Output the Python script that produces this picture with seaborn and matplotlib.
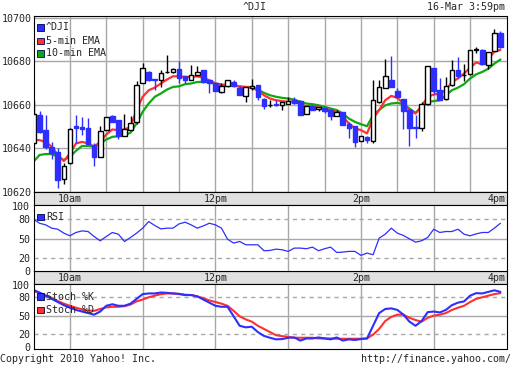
import numpy as np
import pandas as pd
import seaborn as sns
import matplotlib.pyplot as plt
from matplotlib.patches import Rectangle

# 5-minute candles, ^DJI 16-Mar-2010 (minutes after 9:30)
minutes = np.arange(78) * 5
opens = [10642.3, 10655.3, 10648.4, 10640.8, 10638.2, 10625.8, 10633.1, 10650.2, 10650.0, 10649.2,
         10641.5, 10635.9, 10648.4, 10654.8, 10653.0, 10645.8, 10648.4, 10652.2, 10670.2, 10675.1,
         10671.9, 10671.6, 10675.0, 10675.1, 10676.6, 10673.1, 10671.6, 10673.6, 10675.9, 10671.3,
         10669.8, 10666.0, 10668.5, 10670.5, 10667.5, 10664.1, 10667.5, 10669.0, 10662.8, 10659.8,
         10660.2, 10660.0, 10660.6, 10662.4, 10661.7, 10655.6, 10659.4, 10658.3, 10658.5, 10657.5,
         10654.9, 10656.6, 10651.1, 10650.2, 10643.3, 10645.3, 10643.5, 10661.4, 10667.5, 10671.6,
         10666.4, 10662.8, 10657.6, 10649.8, 10649.2, 10660.6, 10677.1, 10666.7, 10662.8, 10669.0,
         10675.9, 10673.5, 10674.0, 10685.3, 10685.3, 10678.2, 10684.7, 10693.1]
highs = [10661.7, 10657.1, 10655.3, 10643.0, 10640.0, 10633.4, 10649.2, 10655.3, 10654.2, 10653.8,
         10642.3, 10650.2, 10654.5, 10655.3, 10653.0, 10655.6, 10655.0, 10670.8, 10679.0, 10675.5,
         10672.0, 10675.9, 10682.7, 10676.9, 10680.0, 10673.1, 10678.2, 10677.9, 10675.9, 10671.3,
         10670.2, 10670.0, 10671.3, 10671.3, 10668.5, 10668.0, 10671.8, 10669.0, 10663.0, 10662.1,
         10662.1, 10661.2, 10663.7, 10663.7, 10662.4, 10659.4, 10659.8, 10658.9, 10658.8, 10658.3,
         10657.6, 10656.6, 10652.0, 10650.5, 10645.6, 10645.6, 10671.3, 10671.3, 10681.2, 10682.3,
         10667.5, 10662.8, 10658.3, 10655.3, 10661.4, 10677.7, 10677.1, 10672.4, 10672.8, 10680.5,
         10682.0, 10678.6, 10685.3, 10686.6, 10685.6, 10684.3, 10694.6, 10694.0]
lows = [10641.5, 10646.9, 10639.7, 10635.0, 10621.7, 10623.5, 10632.8, 10642.3, 10646.0, 10642.0,
        10632.1, 10635.9, 10648.4, 10652.0, 10644.1, 10645.8, 10648.4, 10651.4, 10670.2, 10671.0,
        10667.0, 10668.0, 10674.6, 10674.8, 10670.0, 10670.0, 10671.3, 10673.1, 10670.0, 10665.5,
        10666.2, 10665.5, 10668.2, 10668.2, 10664.4, 10661.4, 10666.7, 10662.1, 10658.3, 10658.8,
        10659.4, 10657.6, 10660.6, 10660.6, 10655.3, 10655.6, 10657.6, 10657.3, 10656.3, 10653.0,
        10654.9, 10650.7, 10645.0, 10640.8, 10643.3, 10642.3, 10642.6, 10661.0, 10667.5, 10668.2,
        10663.4, 10648.7, 10641.2, 10645.0, 10648.1, 10660.0, 10665.0, 10662.0, 10662.4, 10668.5,
        10672.5, 10671.0, 10673.5, 10684.0, 10678.6, 10676.6, 10684.5, 10686.0]
closes = [10655.6, 10647.6, 10640.5, 10638.0, 10625.5, 10631.9, 10648.7, 10649.3, 10648.7, 10642.0,
          10635.9, 10648.1, 10654.5, 10652.2, 10645.8, 10648.7, 10651.8, 10668.9, 10677.1, 10671.6,
          10671.5, 10674.7, 10675.2, 10676.6, 10672.5, 10671.6, 10673.6, 10675.1, 10670.5, 10669.8,
          10666.4, 10668.5, 10671.3, 10668.5, 10664.4, 10668.0, 10668.7, 10663.7, 10659.4, 10659.9,
          10659.8, 10661.2, 10661.7, 10661.0, 10655.3, 10659.4, 10657.6, 10658.9, 10657.3, 10654.8,
          10656.5, 10650.7, 10649.3, 10643.1, 10645.6, 10643.7, 10662.1, 10668.2, 10673.1, 10668.2,
          10663.4, 10657.1, 10649.5, 10649.5, 10660.2, 10677.7, 10666.4, 10662.4, 10668.5, 10676.2,
          10673.1, 10673.8, 10685.3, 10685.6, 10678.6, 10684.3, 10693.0, 10686.6]

ema5 = [10643.8, 10643.8, 10643.0, 10640.8, 10637.0, 10634.2, 10637.7, 10642.3, 10643.0, 10642.3,
        10640.8, 10643.0, 10646.4, 10648.7, 10648.4, 10648.7, 10649.9, 10657.6, 10663.7, 10666.7,
        10667.9, 10669.8, 10671.6, 10673.1, 10673.1, 10672.8, 10672.8, 10673.1, 10672.5, 10671.3,
        10669.8, 10669.0, 10669.3, 10669.3, 10668.2, 10668.2, 10667.9, 10666.5, 10664.4, 10662.9,
        10662.1, 10661.7, 10661.4, 10661.7, 10660.3, 10659.4, 10659.4, 10658.8, 10658.3, 10657.6,
        10656.8, 10654.5, 10651.5, 10649.2, 10648.4, 10646.9, 10653.7, 10657.6, 10662.1, 10664.1,
        10663.2, 10660.6, 10657.6, 10656.0, 10659.4, 10663.7, 10664.7, 10665.2, 10666.7, 10670.5,
        10672.1, 10674.4, 10677.0, 10679.5, 10678.5, 10681.0, 10684.4, 10685.2]
ema10 = [10633.9, 10637.0, 10637.4, 10637.4, 10636.2, 10634.7, 10636.2, 10638.9, 10641.1, 10641.1,
         10640.8, 10642.3, 10644.1, 10645.3, 10645.6, 10646.1, 10647.2, 10651.5, 10656.8, 10660.6,
         10663.7, 10665.2, 10667.0, 10668.2, 10668.5, 10669.5, 10669.8, 10670.5, 10670.5, 10670.5,
         10669.8, 10669.3, 10669.0, 10668.8, 10668.5, 10668.2, 10668.2, 10667.0, 10665.5, 10664.4,
         10663.7, 10663.2, 10662.9, 10662.4, 10661.4, 10660.6, 10660.3, 10659.8, 10659.1, 10658.3,
         10657.6, 10656.0, 10653.7, 10652.2, 10651.1, 10650.2, 10655.3, 10657.6, 10659.8, 10660.6,
         10660.9, 10660.3, 10658.3, 10656.3, 10659.1, 10661.4, 10661.7, 10662.1, 10664.4, 10666.7,
         10667.9, 10669.5, 10672.1, 10674.0, 10675.1, 10676.6, 10678.9, 10680.8]

rsi = [80.0, 73.8, 71.3, 66.2, 64.6, 58.5, 54.4, 59.5, 62.0, 61.0,
       53.3, 46.7, 53.3, 59.5, 56.9, 45.6, 51.8, 58.5, 66.2, 76.4,
       70.3, 65.1, 66.2, 66.2, 72.8, 75.4, 71.3, 66.2, 69.7, 73.8,
       71.3, 66.2, 49.2, 43.1, 45.6, 40.5, 40.5, 40.5, 31.3, 31.8,
       33.8, 32.8, 30.3, 35.4, 35.4, 34.4, 36.9, 31.3, 34.4, 36.9,
       28.7, 29.2, 30.3, 30.3, 24.1, 27.7, 25.1, 50.8, 56.9, 66.2,
       58.5, 54.9, 49.7, 44.6, 46.7, 51.8, 64.6, 59.5, 61.0, 61.0,
       64.6, 56.9, 54.4, 57.4, 59.5, 59.5, 66.2, 73.8]

stoch_k = [91.8, 87.7, 82.6, 77.4, 72.3, 67.2, 63.1, 59.5, 56.9, 54.4,
           51.8, 56.9, 66.2, 68.7, 66.2, 66.2, 69.7, 77.4, 85.1, 86.2,
           86.2, 87.7, 87.2, 86.2, 85.6, 83.6, 83.6, 81.5, 76.4, 71.3,
           66.2, 64.6, 64.6, 49.2, 33.8, 31.3, 32.3, 23.6, 17.4, 14.4,
           11.8, 12.3, 14.4, 14.9, 9.8, 13.3, 13.3, 14.9, 13.3, 11.8,
           14.9, 9.8, 11.8, 10.8, 12.3, 13.3, 33.8, 54.4, 61.0, 62.0,
           59.5, 51.8, 40.5, 33.8, 41.5, 55.9, 56.9, 55.4, 59.5, 67.2,
           71.3, 73.3, 82.6, 86.7, 86.2, 88.7, 91.3, 88.7]
stoch_d = [90.3, 86.7, 82.6, 78.5, 73.8, 69.7, 66.2, 63.1, 60.5, 58.5,
           58.0, 61.0, 63.6, 64.6, 64.6, 65.6, 68.2, 73.3, 76.4, 80.0,
           82.6, 85.1, 86.2, 86.2, 85.1, 84.1, 83.6, 81.5, 78.5, 74.9,
           72.3, 69.7, 66.2, 58.0, 49.2, 44.1, 40.5, 33.8, 28.7, 23.6,
           18.5, 17.0, 15.9, 14.4, 14.4, 14.4, 14.4, 13.3, 13.3, 13.3,
           12.8, 12.8, 12.8, 12.8, 12.8, 13.3, 19.5, 28.7, 41.5, 48.2,
           51.8, 51.8, 46.7, 43.1, 40.5, 46.7, 50.3, 51.8, 54.4, 59.5,
           63.1, 66.2, 72.3, 77.4, 80.0, 82.6, 85.1, 86.7]

price_ticks = [10620, 10640, 10660, 10680, 10700]
osc_ticks = [0, 20, 50, 80, 100]
time_labels = {30: "10am", 150: "12pm", 270: "2pm", 390: "4pm"}

BLUE = "#2e2eff"
RED = "#ff3030"
GREEN = "#10a810"
GRID = "#a8a8a8"
BAND = "#e0e0e0"

sns.set_style("white", {"axes.edgecolor": "black"})
plt.rcParams['font.family'] = ['DejaVu Sans Mono']
plt.rcParams['font.size'] = 7.2

W, H = 512, 365
fig = plt.figure(figsize=(5.12, 3.65), dpi=100)


def box(l, t, r, b):
    return [l / W, 1 - b / H, (r - l) / W, (b - t) / H]


def fpos(x, y):
    return (x / W, 1 - y / H)


L, R = 33.5, 506.5

# ---------- price panel ----------
ax = fig.add_axes(box(L, 15.5, R, 192))
df = pd.DataFrame({"t": minutes, "o": opens, "h": highs, "l": lows, "c": closes})
up = df["c"] >= df["o"]
ax.vlines(df["t"][up], df["l"][up], df["h"][up], color="black", lw=1, zorder=3)
ax.vlines(df["t"][~up], df["l"][~up], df["h"][~up], color=BLUE, lw=1, zorder=3)
body = np.maximum((df["c"] - df["o"]).abs(), 0.3)
ax.bar(df["t"], body, bottom=np.minimum(df["o"], df["c"]), width=3.8,
       color=np.where(up, "white", BLUE), edgecolor=np.where(up, "black", BLUE),
       linewidth=1, zorder=4)
sns.lineplot(x=minutes, y=ema10, ax=ax, color=GREEN, lw=1.6, zorder=2)
sns.lineplot(x=minutes, y=ema5, ax=ax, color=RED, lw=1.6, zorder=2)
ax.set_xlim(0, 390)
ax.set_ylim(10620, 10701)
ax.set_xticks(np.arange(30, 390, 30))
ax.set_yticks(price_ticks)
ax.grid(True, color=GRID, lw=1)
ax.tick_params(axis="x", labelbottom=False, length=0)
ax.tick_params(axis="y", length=0, pad=1.2)
ax.set_xlabel("")
ax.set_ylabel("")

# ---------- time bands ----------
for top, bot in [(192, 205), (271, 284)]:
    b = fig.add_axes(box(L, top, R, bot))
    b.set_facecolor(BAND)
    b.set_xlim(0, 390)
    b.set_ylim(0, 1)
    b.set_xticks([])
    b.set_yticks([])
    for x, lab in time_labels.items():
        if x == 390:
            b.text(x - 1, 0.45, lab, ha="right", va="center")
        else:
            b.text(x, 0.45, lab, ha="center", va="center")


def osc_axes(top, bot, ymin, ymax):
    a = fig.add_axes(box(L, top, R, bot))
    a.set_xlim(0, 390)
    a.set_ylim(ymin, ymax)
    a.set_xticks(np.arange(30, 390, 60))
    a.set_yticks(osc_ticks)
    a.grid(True, axis="x", color=GRID, lw=1)
    a.axhline(50, color=GRID, lw=1, zorder=0)
    for v in (20, 80):
        a.axhline(v, color=GRID, lw=1, ls=(0, (3, 3)), zorder=0)
    a.tick_params(axis="x", labelbottom=False, length=0)
    a.tick_params(axis="y", length=0, pad=2.5)
    return a


# ---------- RSI ----------
ar = osc_axes(205, 271, 0, 102)
sns.lineplot(x=minutes, y=rsi, ax=ar, color=BLUE, lw=0.9)
ar.set_xlabel("")
ar.set_ylabel("")

# ---------- Stochastic ----------
ast = osc_axes(284, 348.5, -3, 101.5)
sns.lineplot(x=minutes, y=stoch_d, ax=ast, color=RED, lw=1.5)
sns.lineplot(x=minutes, y=stoch_k, ax=ast, color=BLUE, lw=1.5)
ast.set_xlabel("")
ast.set_ylabel("")

# ---------- legends ----------
def key(x, y, color, label):
    fig.add_artist(Rectangle(fpos(x, y + 6.5), 6.5 / W, 6.5 / H, transform=fig.transFigure,
                             facecolor=color, edgecolor="#000050", lw=0.6, zorder=10))
    fig.text(*fpos(x + 9, y + 3.5), label, ha="left", va="center", zorder=10)


key(37, 24, BLUE, "^DJI")
key(37, 37.5, RED, "5-min EMA")
key(37, 50, GREEN, "10-min EMA")
key(37, 213.5, BLUE, "RSI")
key(37, 293, BLUE, "Stoch %K")
key(37, 306.5, RED, "Stoch %D")

# ---------- titles & footer ----------
fig.text(*fpos(255, 7), "^DJI", ha="center", va="center")
fig.text(*fpos(505, 7), "16-Mar 3:59pm", ha="right", va="center")
fig.text(*fpos(0, 358.5), "Copyright 2010 Yahoo! Inc.", ha="left", va="center")
fig.text(*fpos(511, 358.5), "http://finance.yahoo.com/", ha="right", va="center")

fig.savefig("out.png", dpi=100)
